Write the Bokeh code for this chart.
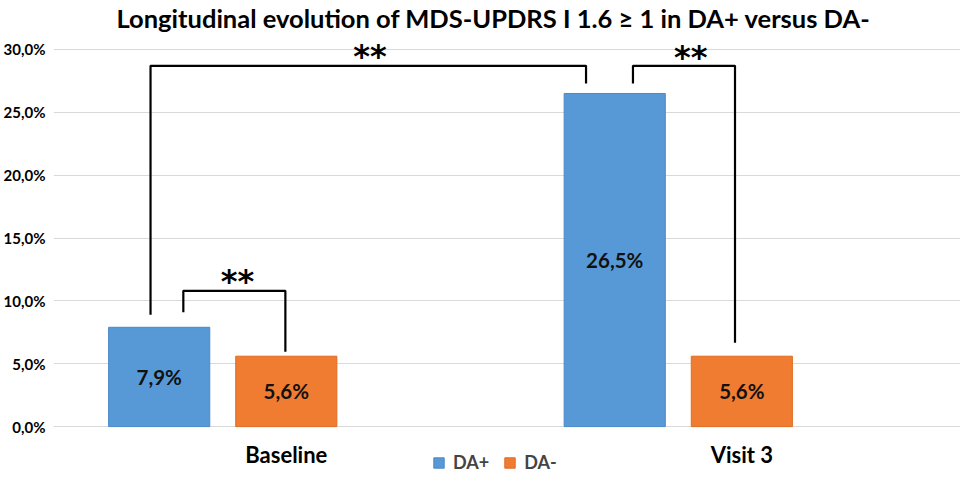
from bokeh.plotting import figure
from bokeh.models import (ColumnDataSource, FixedTicker, CustomJSTickFormatter, Legend, LegendItem, Title)
from bokeh.core.properties import value
from bokeh.embed import file_html
from bokeh.resources import INLINE

categories = ["Baseline", "Visit 3"]
da_plus = [7.9, 26.5]
da_minus = [5.6, 5.6]
series_names = ["DA+", "DA-"]
y_ticks = [0, 5, 10, 15, 20, 25, 30]

# significance brackets (annotation): left leg x, right leg x, top y, left leg bottom, right leg bottom
br_x_left = [-0.226, -0.298, 0.761]
br_x_right = [-0.002, 0.658, 0.985]
br_y_top = [10.8, 28.7, 28.7]
br_y_left = [9.1, 8.9, 27.3]
br_y_right = [5.95, 27.3, 6.67]
br_label = ["**", "**", "**"]
star_x = [-0.107, 0.184, 0.888]
star_y = [11.98, 29.92, 29.84]

FONT = "Lato"
BLUE = "#5799d7"
ORANGE = "#ef7c31"

p = figure(width=960, height=474, x_range=(-0.511, 1.480), y_range=(-3.81, 31.35),
           x_axis_location=None, output_backend="svg", toolbar_location=None,
           min_border_left=50, min_border_right=0, min_border_top=28, min_border_bottom=0)
t = Title(text="Longitudinal evolution of MDS-UPDRS I 1.6 \u2265 1 in DA+ versus DA-",
          align="left", offset=63, standoff=0, text_font=FONT, text_font_size="25.5px",
          text_font_style="bold", text_color="#000000")
p.add_layout(t, "above")

off_plus, off_minus, bw = -0.279, 0.0, 0.222
idx = list(range(len(categories)))
x_plus = [i + off_plus for i in idx]
x_minus = [i + off_minus for i in idx]

def pct(v):
    return f"{v:.1f}".replace(".", ",") + "%"

src = ColumnDataSource(dict(xp=x_plus, xm=x_minus, yp=da_plus, ym=da_minus,
                            lp=[pct(v) for v in da_plus], lm=[pct(v) for v in da_minus],
                            yp2=[v / 2 for v in da_plus], ym2=[v / 2 for v in da_minus]))

r1 = p.vbar(x="xp", top="yp", bottom=0, width=bw, source=src, fill_color=BLUE,
            line_color="#4a88c8", line_width=1)
r2 = p.vbar(x="xm", top="ym", bottom=0, width=bw, source=src, fill_color=ORANGE,
            line_color="#e06c22", line_width=1)

p.text(x="xp", y="yp2", text="lp", source=src, text_align="center", text_baseline="middle",
       text_font=value(FONT), text_font_size="20.5px", text_font_style="bold", text_color="#111111")
p.text(x="xm", y="ym2", text="lm", source=src, text_align="center", text_baseline="middle",
       text_font=value(FONT), text_font_size="20.5px", text_font_style="bold", text_color="#111111")

# category labels (x axis)
p.text(x=idx, y=[-2.22] * len(idx), text=categories, text_align="center", text_baseline="middle",
       text_font=value(FONT), text_font_size="22px", text_font_style="bold", text_color="#000000")

xs = [[a, a, b, b] for a, b in zip(br_x_left, br_x_right)]
ys = [[yl, yt, yt, yr] for yl, yt, yr in zip(br_y_left, br_y_top, br_y_right)]
p.multi_line(xs=xs, ys=ys, line_color="#000000", line_width=2.2)
p.text(x=star_x, y=[s - 0.42 for s in star_y], text=br_label, text_align="center",
       text_baseline="alphabetic", text_font=value("DejaVu Sans"), text_font_size="32px",
       text_font_style="bold", text_color="#000000")

p.yaxis.ticker = FixedTicker(ticks=y_ticks)
p.yaxis.formatter = CustomJSTickFormatter(code="return tick.toFixed(1).replace('.', ',') + '%';")
p.yaxis.major_label_text_font = FONT
p.yaxis.major_label_text_font_size = "15px"
p.yaxis.major_label_text_font_style = "bold"
p.yaxis.major_label_text_color = "#000000"
p.yaxis.axis_line_color = None
p.yaxis.major_tick_line_color = None
p.yaxis.minor_tick_line_color = None
p.yaxis.major_tick_out = 0
p.yaxis.major_tick_in = 0
p.yaxis.major_label_standoff = 8

p.xgrid.grid_line_color = None
p.ygrid.grid_line_color = "#d9d9d9"
p.ygrid.grid_line_width = 1
p.outline_line_color = None

legend = Legend(items=[LegendItem(label=series_names[0], renderers=[r1]),
                       LegendItem(label=series_names[1], renderers=[r2])],
                orientation="horizontal", location=(379, 1),
                label_text_font=FONT, label_text_font_size="18px", label_text_font_style="bold",
                glyph_width=13, glyph_height=13, spacing=14, padding=0, margin=0,
                label_standoff=8, border_line_color=None, background_fill_alpha=0)
p.add_layout(legend, "center")

open("out.html", "w").write(file_html(p, INLINE))
